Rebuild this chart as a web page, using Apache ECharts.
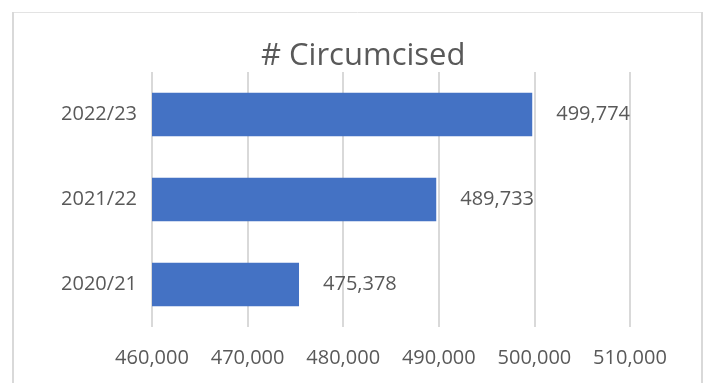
<!DOCTYPE html>
<html>
<head>
<meta charset="utf-8">
<script src="https://cdn.jsdelivr.net/npm/echarts@6/dist/echarts.min.js"></script>
<style>
  html, body { margin: 0; padding: 0; background: #ffffff; }
  #chart { width: 704px; height: 383px; }
</style>
</head>
<body>
<div id="chart"></div>
<script>
// Reporting years, bottom to top on the category axis
const years = ['2020/21', '2021/22', '2022/23'];
// Number of men circumcised per year
const circumcised = [475378, 489733, 499774];
// Value axis range and step
const axisMin = 460000;
const axisMax = 510000;
const axisStep = 10000;

const textColor = '#595959';
const fontFamily = '"Open Sans", "Noto Sans", sans-serif';

const chart = echarts.init(document.getElementById('chart'), null, { renderer: 'canvas' });

chart.setOption({
  animation: false,
  backgroundColor: '#ffffff',
  title: {
    text: '# Circumcised',
    left: 256,
    top: 36,
    textStyle: { color: textColor, fontSize: 31, fontWeight: 'normal', fontFamily: fontFamily, lineHeight: 31 }
  },
  grid: { left: 152, right: 74, top: 72, bottom: 56 },
  xAxis: {
    type: 'value',
    min: axisMin,
    max: axisMax,
    interval: axisStep,
    axisLine: { show: false },
    axisTick: { show: false },
    splitLine: { lineStyle: { color: '#d9d9d9', width: 2 } },
    axisLabel: {
      color: textColor,
      fontSize: 20,
      fontFamily: fontFamily,
      margin: 21,
      formatter: v => v.toLocaleString('en-US')
    }
  },
  yAxis: {
    type: 'category',
    data: years,
    axisLine: { show: false },
    axisTick: { show: false },
    axisLabel: { color: textColor, fontSize: 20, fontFamily: fontFamily, margin: 15 }
  },
  series: [{
    type: 'bar',
    data: circumcised,
    barWidth: '51%',
    itemStyle: { color: '#4472c4' },
    label: {
      show: true,
      position: 'right',
      distance: 24,
      color: textColor,
      fontSize: 20,
      fontFamily: fontFamily,
      formatter: p => p.value.toLocaleString('en-US')
    }
  }],
  graphic: [
    { type: 'line', shape: { x1: 13, y1: 12.5, x2: 702, y2: 12.5 }, style: { stroke: '#e3e3e3', lineWidth: 1 } },
    { type: 'line', shape: { x1: 13, y1: 12, x2: 13, y2: 383 }, style: { stroke: '#d9d9d9', lineWidth: 2 } },
    { type: 'line', shape: { x1: 702, y1: 12, x2: 702, y2: 383 }, style: { stroke: '#d9d9d9', lineWidth: 2 } }
  ]
});
</script>
</body>
</html>
